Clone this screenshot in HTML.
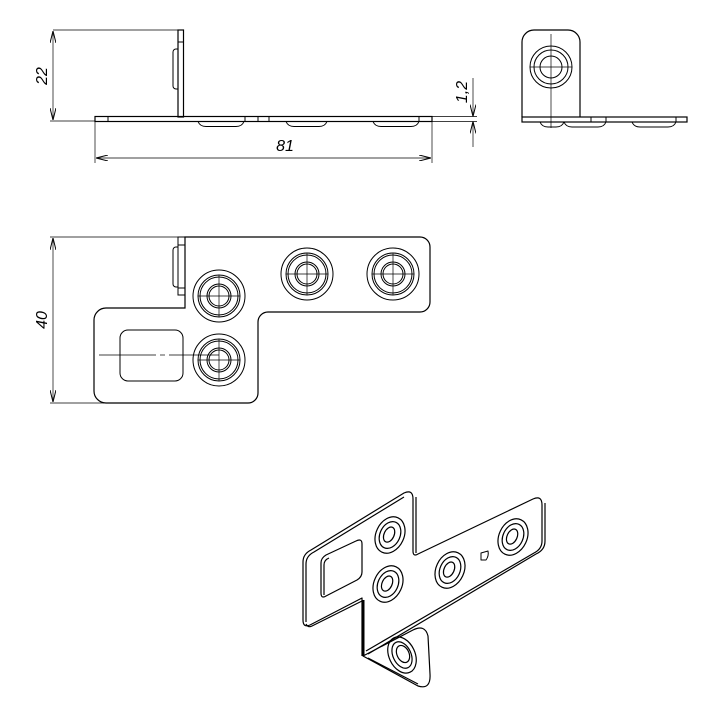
<!DOCTYPE html>
<html><head><meta charset="utf-8"><style>
html,body{margin:0;padding:0;background:#fff;}
svg{display:block}
text{font-family:"Liberation Sans",sans-serif;font-style:italic;font-size:16px;fill:#000;stroke:none}
</style></head><body>
<svg width="715" height="713" viewBox="0 0 715 713" xmlns="http://www.w3.org/2000/svg" fill="none" stroke="#000" stroke-width="1">
<defs>
<marker id="a" markerWidth="12" markerHeight="6" refX="12" refY="3" orient="auto-start-reverse" markerUnits="userSpaceOnUse"><path d="M0,0 L12,3 L0,6" fill="none" stroke="#000" stroke-width="1"/></marker>
</defs>
<!-- FRONT VIEW -->
<line x1="53" y1="30" x2="178" y2="30" stroke-width="0.7"/>
<line x1="50" y1="121" x2="95" y2="121" stroke-width="0.7"/>
<line x1="53" y1="31" x2="53" y2="120" marker-start="url(#a)" marker-end="url(#a)" stroke-width="0.7"/>
<text transform="translate(47,76) rotate(-90)" text-anchor="middle">22</text>
<rect x="178" y="30" width="5.5" height="87" stroke-width="1.2"/>
<line x1="178" y1="42" x2="183.5" y2="42"/>
<path d="M178,49 h-2 a3,3 0 0 0 -3,3 v34 a3,3 0 0 0 3,3 h2"/>
<rect x="95" y="116.5" width="337" height="5" stroke-width="1.2"/>
<line x1="108" y1="116.5" x2="108" y2="121.5"/><line x1="245" y1="116.5" x2="245" y2="121.5"/>
<line x1="258" y1="116.5" x2="258" y2="121.5"/><line x1="269" y1="116.5" x2="269" y2="121.5"/>
<line x1="419" y1="116.5" x2="419" y2="121.5"/>
<path d="M198,121.5 q2,5 8,5 h30 q6,0 8,-5"/>
<path d="M286,121.5 q2,5 8,5 h25 q6,0 8,-5"/>
<path d="M373,121.5 q2,5 8,5 h30 q6,0 8,-5"/>
<line x1="432" y1="116.5" x2="477" y2="116.5" stroke-width="0.7"/>
<line x1="432" y1="121.5" x2="477" y2="121.5" stroke-width="0.7"/>
<line x1="95" y1="122" x2="95" y2="163" stroke-width="0.7"/>
<line x1="432" y1="122" x2="432" y2="163" stroke-width="0.7"/>
<line x1="96" y1="158" x2="431" y2="158" marker-start="url(#a)" marker-end="url(#a)" stroke-width="0.7"/>
<text x="285" y="151" text-anchor="middle">81</text>
<line x1="473" y1="78" x2="473" y2="116.5" marker-end="url(#a)" stroke-width="0.7"/>
<line x1="473" y1="147" x2="473" y2="121.5" marker-end="url(#a)" stroke-width="0.7"/>
<text transform="translate(467,92) rotate(-90)" text-anchor="middle">1,2</text>
<!-- SIDE VIEW -->
<path d="M522,117 V42 a12,12 0 0 1 12,-12 H568 a12,12 0 0 1 12,12 V117" stroke-width="1.2"/>
<rect x="522" y="117" width="165" height="5" stroke-width="1.2"/>
<line x1="591" y1="117" x2="591" y2="122"/><line x1="606" y1="117" x2="606" y2="122"/><line x1="676" y1="117" x2="676" y2="122"/>
<path d="M540,122 q2,5 8,5 h8 q6,0 8,-5"/>
<path d="M564,122 q2,5 8,5 h26 q6,0 8,-5"/>
<path d="M632,122 q2,5 8,5 h28 q6,0 8,-5"/>
<circle cx="551" cy="67" r="21"/><circle cx="551" cy="67" r="17"/><circle cx="551" cy="67" r="11"/>
<line x1="551" y1="34" x2="551" y2="128" stroke-width="0.7"/>
<line x1="530" y1="67" x2="572" y2="67" stroke-width="0.7"/>
<!-- TOP VIEW -->
<line x1="50" y1="237" x2="185" y2="237" stroke-width="0.7"/>
<line x1="50" y1="403" x2="107" y2="403" stroke-width="0.7"/>
<line x1="53" y1="238" x2="53" y2="402" marker-start="url(#a)" marker-end="url(#a)" stroke-width="0.7"/>
<text transform="translate(47,320) rotate(-90)" text-anchor="middle">40</text>
<path d="M185,237 H420 a10,10 0 0 1 10,10 V302 a10,10 0 0 1 -10,10 H268 a10,10 0 0 0 -10,10 V393 a10,10 0 0 1 -10,10 H106 a12,12 0 0 1 -12,-12 V320 a12,12 0 0 1 12,-12 H185 Z" stroke-width="1.2"/>
<rect x="178" y="237" width="7" height="58"/>
<line x1="178" y1="245" x2="185" y2="245"/><line x1="178" y1="288" x2="185" y2="288"/>
<path d="M178,247 h-2 a3,3 0 0 0 -3,3 v34 a3,3 0 0 0 3,3 h2"/>
<rect x="120" y="330" width="63" height="51" rx="8"/>
<line x1="99" y1="355" x2="156" y2="355" stroke-width="0.7"/>
<line x1="160" y1="355" x2="165" y2="355" stroke-width="0.7"/>
<line x1="169" y1="355" x2="219" y2="355" stroke-width="0.7"/>
<g>
<g transform="translate(219,296)"><circle r="26"/><circle r="21"/><circle r="19"/><circle r="12"/><circle r="10"/><line x1="-21" x2="21" stroke-width="0.7"/><line y1="-21" y2="21" stroke-width="0.7"/></g>
<g transform="translate(219,360)"><circle r="26"/><circle r="21"/><circle r="19"/><circle r="12"/><circle r="10"/><line x1="-21" x2="21" stroke-width="0.7"/><line y1="-21" y2="21" stroke-width="0.7"/></g>
<g transform="translate(307,274)"><circle r="26"/><circle r="21"/><circle r="19"/><circle r="12"/><circle r="10"/><line x1="-21" x2="21" stroke-width="0.7"/><line y1="-21" y2="21" stroke-width="0.7"/></g>
<g transform="translate(393,274)"><circle r="26"/><circle r="21"/><circle r="19"/><circle r="12"/><circle r="10"/><line x1="-21" x2="21" stroke-width="0.7"/><line y1="-21" y2="21" stroke-width="0.7"/></g>
</g>
<!-- ISOMETRIC -->
<g stroke-width="1.2" stroke-linejoin="round">
<path d="M303,620 V562 q0,-8 8,-12 L404,493 q9,-4 9,6 V551 q0,6 5,3 L533,499 q9,-4 9,6 V541 q0,8 -8,12 L366,651"/>
<path d="M306,622 V564 q0,-8 8,-12 L404,497"/>
<path d="M416,497 V553"/>
<path d="M545,503 V541 q0,9 -9,13 L368,654"/>
<path d="M303,620 q0,8 7,5 L362,598 V656"/>
<path d="M306,624 q2,4 6,2 L362,601"/>
<line x1="363" y1="600" x2="363" y2="656" stroke-width="3"/>
<path d="M363,656 L413,630 q12,-6 15,6 L430,674 q1,16 -12,12 Z"/>
<path d="M368,658 L418,684"/>
<ellipse cx="402" cy="655" rx="13" ry="19" transform="rotate(-25 402 655)"/>
<ellipse cx="402" cy="655" rx="9" ry="14" transform="rotate(-25 402 655)"/>
<ellipse cx="403" cy="654" rx="6" ry="9" transform="rotate(-25 403 654)"/>
<path d="M321,593 V563 q0,-5 5,-8 L356,541 q6,-3 6,3 V572 q0,5 -5,8 L326,596 q-5,3 -5,-3 Z"/>
<path d="M324,595 V565 q0,-5 5,-7"/>
<g transform="translate(390,535) rotate(25)"><ellipse rx="14" ry="19"/><ellipse rx="10" ry="14"/><ellipse rx="5" ry="8" cx="-1"/></g>
<g transform="translate(388,584) rotate(25)"><ellipse rx="14" ry="19"/><ellipse rx="10" ry="14"/><ellipse rx="5" ry="8" cx="-1"/></g>
<g transform="translate(450,570) rotate(25)"><ellipse rx="14" ry="19"/><ellipse rx="10" ry="14"/><ellipse rx="5" ry="8" cx="-1"/></g>
<g transform="translate(513,537) rotate(25)"><ellipse rx="14" ry="19"/><ellipse rx="10" ry="14"/><ellipse rx="5" ry="8" cx="-1"/></g>
<path d="M481,553 v7 h5 q3,-4 2,-9 z" stroke-width="1"/>
</g>
</svg>
</body></html>
